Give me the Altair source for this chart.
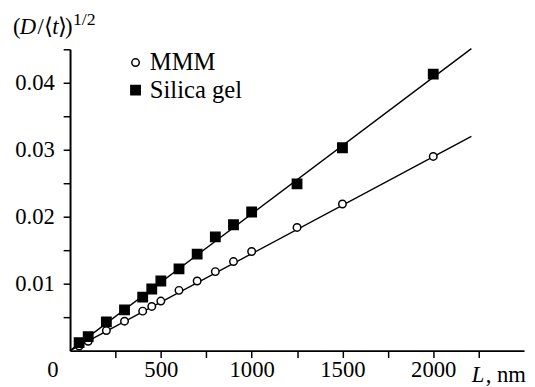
import altair as alt
import pandas as pd

# ---- data ----
L_nm = [50, 100, 200, 300, 400, 450, 500, 600, 700, 800, 900, 1000, 1250, 1500, 2000]
mmm = [0.0007, 0.0014, 0.0030, 0.0044, 0.0059, 0.0066, 0.0074, 0.0090, 0.0104,
       0.0118, 0.0133, 0.0148, 0.0184, 0.0219, 0.0290]
silica = [0.0012, 0.0021, 0.0043, 0.0061, 0.0080, 0.0092, 0.0104, 0.0122, 0.0144,
          0.0170, 0.0188, 0.0207, 0.0249, 0.0303, 0.0413]
fit_L = [0, 2210]
fit_mmm = [0.0, 0.0320]
fit_silica = [0.0, 0.0451]
series_names = ["MMM", "Silica gel"]
x_ticks = [0, 250, 500, 750, 1000, 1250, 1500, 1750, 2000, 2250]
y_ticks = [0.005, 0.01, 0.015, 0.02, 0.025, 0.03, 0.035, 0.04, 0.045]

pts = pd.DataFrame({
    "L": L_nm + L_nm,
    "v": mmm + silica,
    "series": [series_names[0]] * len(L_nm) + [series_names[1]] * len(L_nm),
})
fit = pd.DataFrame({
    "L": fit_L + fit_L,
    "v": fit_mmm + fit_silica,
    "series": [series_names[0]] * 2 + [series_names[1]] * 2,
})

FONT = "Liberation Serif"

x_scale = alt.Scale(domain=[0, 2500], nice=False)
y_scale = alt.Scale(domain=[0, 0.045], nice=False)

x_axis = alt.Axis(
    values=x_ticks, title=None, grid=False,
    domainWidth=2, domainColor="black",
    tickColor="black", tickWidth=1.5, tickSize=7,
    tickOpacity={"condition": {"test": "datum.value == 0", "value": 0}, "value": 1},
    labelFont=FONT, labelFontSize=23, labelColor="black", labelPadding=1,
    labelFlush=False, labelOverlap=False,
    labelExpr="(datum.value % 500 == 0 && datum.value <= 2000) ? format(datum.value, 'd') : ''",
    labelOffset={"condition": {"test": "datum.value == 0", "value": -18}, "value": 0},
)
y_axis = alt.Axis(
    values=y_ticks, title=None, grid=False,
    domainWidth=2, domainColor="black",
    tickColor="black", tickWidth=1.5, tickSize=7,
    labelFont=FONT, labelFontSize=23, labelColor="black", labelPadding=9,
    labelFlush=False, labelOverlap=False,
    labelExpr="((datum.value * 1000) % 10 < 0.5 || (datum.value * 1000) % 10 > 9.5) ? format(datum.value, '.2f') : ''",
)

legend = alt.Legend(
    orient="none", legendX=54, legendY=1, title=None, padding=0,
    labelFont=FONT, labelFontSize=25, labelColor="black", labelOffset=2,
    symbolStrokeWidth=1.5, rowPadding=2,
)

lines = alt.Chart(fit).mark_line(color="black", strokeWidth=1.4).encode(
    x=alt.X("L:Q", scale=x_scale, axis=x_axis),
    y=alt.Y("v:Q", scale=y_scale, axis=y_axis),
    detail="series:N",
)

points = alt.Chart(pts).mark_point(filled=True, strokeWidth=1.5, opacity=1).encode(
    x=alt.X("L:Q", scale=x_scale, axis=x_axis),
    y=alt.Y("v:Q", scale=y_scale, axis=y_axis),
    shape=alt.Shape("series:N", scale=alt.Scale(domain=series_names, range=["circle", "square"]), legend=legend),
    fill=alt.Fill("series:N", scale=alt.Scale(domain=series_names, range=["white", "black"]), legend=legend),
    stroke=alt.Stroke("series:N", scale=alt.Scale(domain=series_names, range=["black", "black"]), legend=legend),
    size=alt.Size("series:N", scale=alt.Scale(domain=series_names, range=[58, 90]), legend=legend),
)


def txt(s, x, y, size=23, italic=False):
    return alt.Chart(pd.DataFrame({"t": [s]})).mark_text(
        font=FONT, fontSize=size, fontStyle="italic" if italic else "normal",
        align="left", baseline="alphabetic", color="black",
    ).encode(text="t:N", x=alt.value(x), y=alt.value(y))


labels = [
    txt("(", -58, -16),
    txt("D", -51, -16, italic=True),
    txt("/", -33, -16),
    txt("\u27e8", -26, -16),
    txt("t", -18, -16, italic=True),
    txt("\u27e9", -12, -16),
    txt(")", -5, -16),
    txt("1/2", 3, -25, size=18),
    txt("L", 408, 338, italic=True),
    txt(", nm", 422, 338),
]

chart = alt.layer(lines, points, *labels).properties(
    width=461, height=306,
    padding={"left": 63, "top": 39, "right": 3, "bottom": 34},
    autosize=alt.AutoSizeParams(type="none"),
    background="white",
).configure_view(stroke=None)

chart.save("out.html", embed_options={"renderer": "svg", "actions": False})
